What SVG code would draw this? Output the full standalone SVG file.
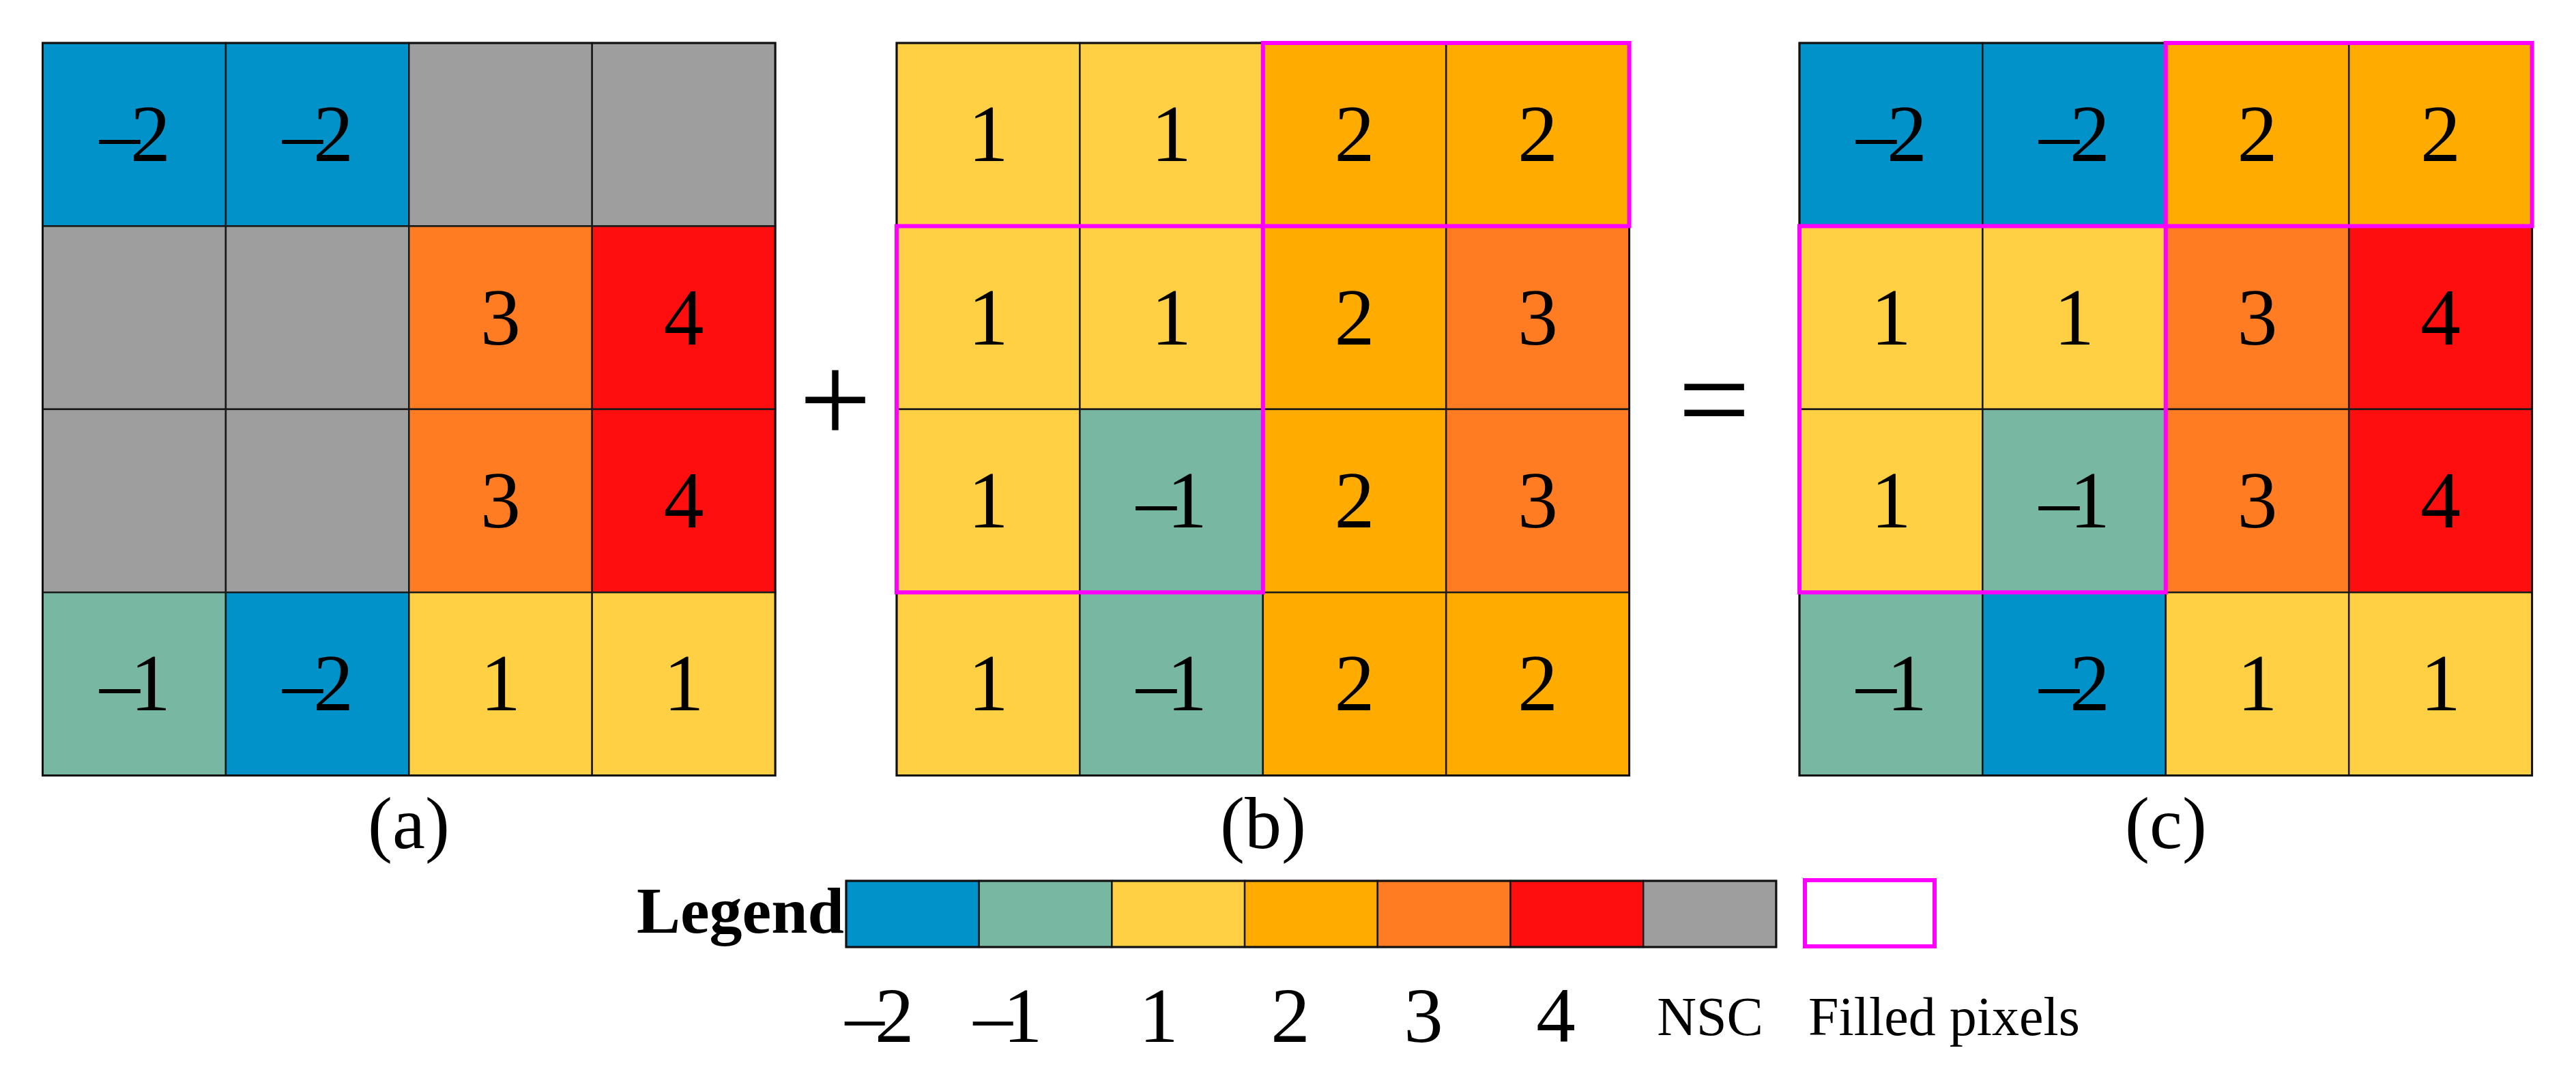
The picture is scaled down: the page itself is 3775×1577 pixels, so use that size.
<svg xmlns="http://www.w3.org/2000/svg" width="3775" height="1577" viewBox="0 0 3775 1577">
<style>
.c{stroke:#1a1a1a;stroke-width:2.5}
.n2{fill:#0192C9}.n1{fill:#78B8A3}.p1{fill:#FFD044}.p2{fill:#FFAB00}.p3{fill:#FF7C22}.p4{fill:#FF0E10}.ns{fill:#9E9E9E}
.t{font-family:"Liberation Serif","Times New Roman",serif;font-size:118px;fill:#000;text-anchor:middle}
.m{letter-spacing:-14px}
.lb{font-family:"Liberation Serif","Times New Roman",serif;font-size:108px;fill:#000;text-anchor:middle}
.lg{font-family:"Liberation Serif","Times New Roman",serif;font-size:115px;fill:#000;text-anchor:middle}
.ls{font-family:"Liberation Serif","Times New Roman",serif;font-size:80px;fill:#000}
.op{font-family:"Liberation Serif","Times New Roman",serif;font-size:188px;fill:#000;text-anchor:middle}
.mg{fill:none;stroke:#F0F;stroke-width:6}
.bd{fill:none;stroke:#111;stroke-width:3}
</style>

<g id="grid-a">
<rect class="c n2" x="62.5" y="63" width="268.4" height="268.4"/>
<rect class="c n2" x="330.9" y="63" width="268.4" height="268.4"/>
<rect class="c ns" x="599.3" y="63" width="268.4" height="268.4"/>
<rect class="c ns" x="867.7" y="63" width="268.4" height="268.4"/>
<rect class="c ns" x="62.5" y="331.4" width="268.4" height="268.4"/>
<rect class="c ns" x="330.9" y="331.4" width="268.4" height="268.4"/>
<rect class="c p3" x="599.3" y="331.4" width="268.4" height="268.4"/>
<rect class="c p4" x="867.7" y="331.4" width="268.4" height="268.4"/>
<rect class="c ns" x="62.5" y="599.8" width="268.4" height="268.4"/>
<rect class="c ns" x="330.9" y="599.8" width="268.4" height="268.4"/>
<rect class="c p3" x="599.3" y="599.8" width="268.4" height="268.4"/>
<rect class="c p4" x="867.7" y="599.8" width="268.4" height="268.4"/>
<rect class="c n1" x="62.5" y="868.2" width="268.4" height="268.4"/>
<rect class="c n2" x="330.9" y="868.2" width="268.4" height="268.4"/>
<rect class="c p1" x="599.3" y="868.2" width="268.4" height="268.4"/>
<rect class="c p1" x="867.7" y="868.2" width="268.4" height="268.4"/>
<rect class="bd" x="62.5" y="63" width="1073.6" height="1073.6"/>
<text class="t m" x="191" y="236">–2</text>
<text class="t m" x="459" y="236">–2</text>
<text class="t" x="733.5" y="504.6">3</text>
<text class="t" x="1001.9" y="504.6">4</text>
<text class="t" x="733.5" y="773">3</text>
<text class="t" x="1001.9" y="773">4</text>
<text class="t m" x="191" y="1041.4">–1</text>
<text class="t m" x="459" y="1041.4">–2</text>
<text class="t" x="733.5" y="1041.4">1</text>
<text class="t" x="1001.9" y="1041.4">1</text>
<text class="lb" x="599" y="1243">(a)</text>
</g>

<g id="grid-b">
<rect class="c p1" x="1314" y="63" width="268.4" height="268.4"/>
<rect class="c p1" x="1582.4" y="63" width="268.4" height="268.4"/>
<rect class="c p2" x="1850.8" y="63" width="268.4" height="268.4"/>
<rect class="c p2" x="2119.2" y="63" width="268.4" height="268.4"/>
<rect class="c p1" x="1314" y="331.4" width="268.4" height="268.4"/>
<rect class="c p1" x="1582.4" y="331.4" width="268.4" height="268.4"/>
<rect class="c p2" x="1850.8" y="331.4" width="268.4" height="268.4"/>
<rect class="c p3" x="2119.2" y="331.4" width="268.4" height="268.4"/>
<rect class="c p1" x="1314" y="599.8" width="268.4" height="268.4"/>
<rect class="c n1" x="1582.4" y="599.8" width="268.4" height="268.4"/>
<rect class="c p2" x="1850.8" y="599.8" width="268.4" height="268.4"/>
<rect class="c p3" x="2119.2" y="599.8" width="268.4" height="268.4"/>
<rect class="c p1" x="1314" y="868.2" width="268.4" height="268.4"/>
<rect class="c n1" x="1582.4" y="868.2" width="268.4" height="268.4"/>
<rect class="c p2" x="1850.8" y="868.2" width="268.4" height="268.4"/>
<rect class="c p2" x="2119.2" y="868.2" width="268.4" height="268.4"/>
<rect class="bd" x="1314" y="63" width="1073.6" height="1073.6"/>
<text class="t" x="1448.2" y="236">1</text>
<text class="t" x="1716.6" y="236">1</text>
<text class="t" x="1985" y="236">2</text>
<text class="t" x="2253.4" y="236">2</text>
<text class="t" x="1448.2" y="504.6">1</text>
<text class="t" x="1716.6" y="504.6">1</text>
<text class="t" x="1985" y="504.6">2</text>
<text class="t" x="2253.4" y="504.6">3</text>
<text class="t" x="1448.2" y="773">1</text>
<text class="t m" x="1710" y="773">–1</text>
<text class="t" x="1985" y="773">2</text>
<text class="t" x="2253.4" y="773">3</text>
<text class="t" x="1448.2" y="1041.4">1</text>
<text class="t m" x="1710" y="1041.4">–1</text>
<text class="t" x="1985" y="1041.4">2</text>
<text class="t" x="2253.4" y="1041.4">2</text>
<rect class="mg" x="1850.8" y="63" width="536.8" height="268.4"/>
<rect class="mg" x="1314" y="331.4" width="536.8" height="536.8"/>
<text class="lb" x="1851" y="1243">(b)</text>
</g>

<g id="grid-c">
<rect class="c n2" x="2637" y="63" width="268.4" height="268.4"/>
<rect class="c n2" x="2905.4" y="63" width="268.4" height="268.4"/>
<rect class="c p2" x="3173.8" y="63" width="268.4" height="268.4"/>
<rect class="c p2" x="3442.2" y="63" width="268.4" height="268.4"/>
<rect class="c p1" x="2637" y="331.4" width="268.4" height="268.4"/>
<rect class="c p1" x="2905.4" y="331.4" width="268.4" height="268.4"/>
<rect class="c p3" x="3173.8" y="331.4" width="268.4" height="268.4"/>
<rect class="c p4" x="3442.2" y="331.4" width="268.4" height="268.4"/>
<rect class="c p1" x="2637" y="599.8" width="268.4" height="268.4"/>
<rect class="c n1" x="2905.4" y="599.8" width="268.4" height="268.4"/>
<rect class="c p3" x="3173.8" y="599.8" width="268.4" height="268.4"/>
<rect class="c p4" x="3442.2" y="599.8" width="268.4" height="268.4"/>
<rect class="c n1" x="2637" y="868.2" width="268.4" height="268.4"/>
<rect class="c n2" x="2905.4" y="868.2" width="268.4" height="268.4"/>
<rect class="c p1" x="3173.8" y="868.2" width="268.4" height="268.4"/>
<rect class="c p1" x="3442.2" y="868.2" width="268.4" height="268.4"/>
<rect class="bd" x="2637" y="63" width="1073.6" height="1073.6"/>
<text class="t m" x="2765" y="236">–2</text>
<text class="t m" x="3033" y="236">–2</text>
<text class="t" x="3308" y="236">2</text>
<text class="t" x="3576.4" y="236">2</text>
<text class="t" x="2771.2" y="504.6">1</text>
<text class="t" x="3039.6" y="504.6">1</text>
<text class="t" x="3308" y="504.6">3</text>
<text class="t" x="3576.4" y="504.6">4</text>
<text class="t" x="2771.2" y="773">1</text>
<text class="t m" x="3033" y="773">–1</text>
<text class="t" x="3308" y="773">3</text>
<text class="t" x="3576.4" y="773">4</text>
<text class="t m" x="2765" y="1041.4">–1</text>
<text class="t m" x="3033" y="1041.4">–2</text>
<text class="t" x="3308" y="1041.4">1</text>
<text class="t" x="3576.4" y="1041.4">1</text>
<rect class="mg" x="3173.8" y="63" width="536.8" height="268.4"/>
<rect class="mg" x="2637" y="331.4" width="536.8" height="536.8"/>
<text class="lb" x="3174" y="1243">(c)</text>
</g>

<g id="operators">
<text class="op" x="1224" y="649">+</text>
<text class="op" x="2512" y="649">=</text>
</g>

<g id="legend">
<text x="1237" y="1367" font-family="Liberation Serif, Times New Roman, serif" font-size="96" font-weight="bold" text-anchor="end">Legend</text>
<rect class="c n2" x="1240" y="1291" width="194.7" height="97"/>
<rect class="c n1" x="1434.7" y="1291" width="194.7" height="97"/>
<rect class="c p1" x="1629.4" y="1291" width="194.7" height="97"/>
<rect class="c p2" x="1824.1" y="1291" width="194.7" height="97"/>
<rect class="c p3" x="2018.8" y="1291" width="194.7" height="97"/>
<rect class="c p4" x="2213.5" y="1291" width="194.7" height="97"/>
<rect class="c ns" x="2408.2" y="1291" width="194.7" height="97"/>
<rect class="bd" x="1240" y="1291" width="1362.9" height="97"/>
<rect class="mg" x="2645" y="1290" width="190" height="97"/>
<text class="lg m" x="1282" y="1527">–2</text>
<text class="lg m" x="1470" y="1527">–1</text>
<text class="lg" x="1698" y="1527">1</text>
<text class="lg" x="1891" y="1527">2</text>
<text class="lg" x="2086" y="1527">3</text>
<text class="lg" x="2280" y="1527">4</text>
<text class="ls" x="2506" y="1517" text-anchor="middle">NSC</text>
<text class="ls" x="2650" y="1517">Filled pixels</text>
</g>
</svg>
